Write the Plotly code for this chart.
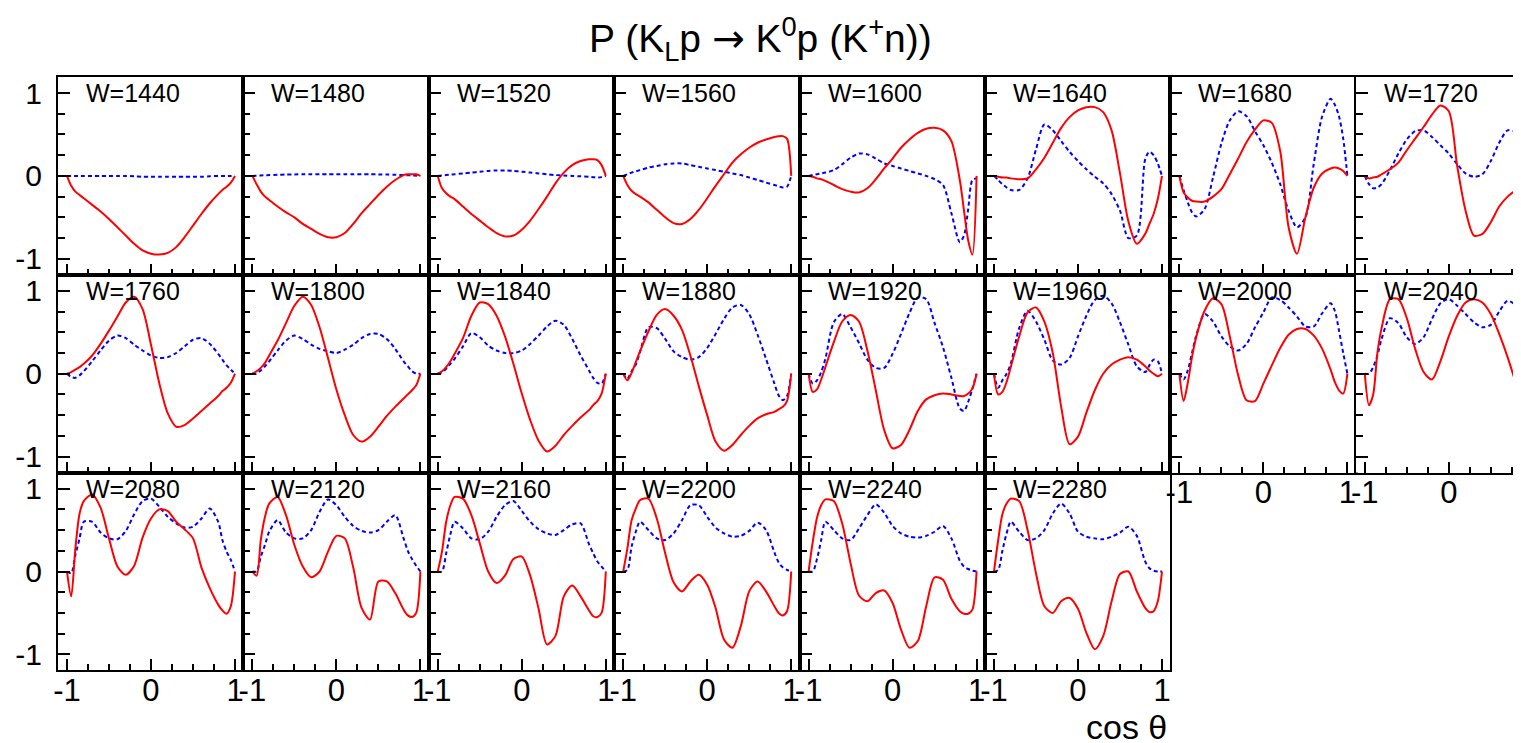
import plotly.graph_objects as go

# ---------------- data ----------------
W_values = [1440, 1480, 1520, 1560, 1600, 1640, 1680, 1720,
            1760, 1800, 1840, 1880, 1920, 1960, 2000, 2040,
            2080, 2120, 2160, 2200, 2240, 2280]

cos_grid = [-1, -0.95, -0.9, -0.85, -0.8, -0.7, -0.6, -0.5, -0.4, -0.3, -0.2, -0.1,
            0, 0.1, 0.2, 0.3, 0.4, 0.5, 0.6, 0.7, 0.8, 0.85, 0.9, 0.95, 1]

tick_vals = [-1, 0, 1]
tick_text = ["-1", "0", "1"]
minor_vals = [-0.75, -0.5, -0.25, 0.25, 0.5, 0.75]

# red solid curves (K0 p)
red_1440 = [0, -0.12, -0.19, -0.23, -0.27, -0.35, -0.43, -0.52, -0.62, -0.72, -0.82, -0.90, -0.94, -0.95, -0.93, -0.86, -0.74, -0.60, -0.46, -0.33, -0.22, -0.17, -0.13, -0.08, 0]
red_1480 = [0, -0.10, -0.19, -0.25, -0.29, -0.37, -0.44, -0.50, -0.58, -0.64, -0.70, -0.74, -0.74, -0.69, -0.58, -0.45, -0.34, -0.23, -0.13, -0.05, 0.01, 0.02, 0.02, 0.02, 0]
red_1520 = [0, -0.15, -0.21, -0.25, -0.28, -0.37, -0.46, -0.54, -0.62, -0.69, -0.73, -0.72, -0.65, -0.54, -0.40, -0.25, -0.09, 0.04, 0.13, 0.18, 0.20, 0.20, 0.19, 0.13, 0]
red_1560 = [0, -0.11, -0.18, -0.22, -0.25, -0.32, -0.41, -0.50, -0.57, -0.58, -0.52, -0.41, -0.27, -0.12, 0.02, 0.16, 0.26, 0.34, 0.40, 0.44, 0.47, 0.48, 0.48, 0.45, 0]
red_1600 = [0, -0.01, -0.03, -0.04, -0.06, -0.11, -0.16, -0.19, -0.20, -0.15, -0.04, 0.09, 0.21, 0.34, 0.44, 0.52, 0.57, 0.58, 0.55, 0.42, -0.05, -0.42, -0.78, -0.95, 0]
red_1640 = [0, -0.01, -0.02, -0.02, -0.03, -0.04, -0.03, 0.08, 0.22, 0.40, 0.58, 0.71, 0.79, 0.83, 0.83, 0.77, 0.55, 0.03, -0.55, -0.82, -0.70, -0.58, -0.46, -0.28, 0]
red_1680 = [0, -0.20, -0.26, -0.30, -0.31, -0.31, -0.25, -0.16, 0.02, 0.21, 0.41, 0.56, 0.67, 0.64, 0.30, -0.62, -0.94, -0.50, -0.14, 0.03, 0.09, 0.10, 0.09, 0.06, 0]
red_1720 = [0, -0.03, -0.02, -0.01, 0.02, 0.08, 0.16, 0.31, 0.45, 0.59, 0.74, 0.85, 0.78, 0.12, -0.42, -0.72, -0.70, -0.56, -0.37, -0.25, -0.17, -0.13, -0.10, -0.06, -0.03]
red_1760 = [0, 0.02, 0.05, 0.08, 0.12, 0.22, 0.36, 0.52, 0.69, 0.86, 0.93, 0.78, 0.35, -0.12, -0.48, -0.64, -0.62, -0.54, -0.45, -0.36, -0.27, -0.21, -0.17, -0.11, 0]
red_1800 = [0, 0.03, 0.07, 0.13, 0.22, 0.40, 0.61, 0.82, 0.93, 0.83, 0.56, 0.19, -0.19, -0.50, -0.74, -0.82, -0.76, -0.64, -0.51, -0.40, -0.30, -0.25, -0.20, -0.14, 0]
red_1840 = [0, 0.03, 0.08, 0.15, 0.24, 0.43, 0.70, 0.86, 0.84, 0.70, 0.45, 0.12, -0.24, -0.56, -0.81, -0.94, -0.87, -0.74, -0.63, -0.53, -0.44, -0.38, -0.33, -0.24, 0]
red_1880 = [0, -0.08, 0.01, 0.14, 0.27, 0.51, 0.71, 0.78, 0.70, 0.53, 0.22, -0.15, -0.50, -0.82, -0.93, -0.86, -0.74, -0.63, -0.54, -0.49, -0.46, -0.43, -0.40, -0.33, 0]
red_1920 = [0, -0.22, -0.19, -0.07, 0.08, 0.38, 0.63, 0.71, 0.63, 0.28, -0.20, -0.68, -0.90, -0.86, -0.68, -0.45, -0.31, -0.26, -0.24, -0.25, -0.27, -0.27, -0.24, -0.18, 0]
red_1960 = [0, -0.25, -0.22, -0.10, 0.08, 0.45, 0.74, 0.80, 0.63, 0.25, -0.40, -0.85, -0.76, -0.47, -0.20, 0.00, 0.11, 0.17, 0.20, 0.17, 0.09, 0.04, 0.0, -0.03, 0]
red_2000 = [0, -0.33, -0.11, 0.20, 0.44, 0.76, 0.91, 0.84, 0.45, -0.02, -0.32, -0.33, -0.12, 0.10, 0.31, 0.47, 0.54, 0.54, 0.46, 0.30, 0.05, -0.10, -0.20, -0.24, 0]
red_2040 = [0, -0.38, -0.25, 0.25, 0.55, 0.90, 0.90, 0.67, 0.30, 0.02, -0.07, 0.15, 0.45, 0.70, 0.86, 0.90, 0.86, 0.72, 0.48, 0.20, -0.12, -0.28, -0.37, -0.38, 0]
red_2080 = [0, -0.30, 0.28, 0.70, 0.85, 0.93, 0.77, 0.40, 0.06, -0.04, 0.07, 0.41, 0.64, 0.75, 0.73, 0.60, 0.51, 0.40, 0.05, -0.20, -0.40, -0.47, -0.51, -0.42, 0]
red_2120 = [0, -0.05, 0.38, 0.66, 0.82, 0.90, 0.68, 0.32, 0.06, -0.07, 0.0, 0.24, 0.43, 0.40, 0.05, -0.44, -0.58, -0.12, -0.12, -0.26, -0.46, -0.53, -0.55, -0.50, 0]
red_2160 = [0, 0.24, 0.60, 0.80, 0.90, 0.88, 0.68, 0.34, 0.0, -0.14, -0.05, 0.15, 0.18, -0.05, -0.45, -0.88, -0.78, -0.30, -0.17, -0.30, -0.47, -0.54, -0.55, -0.50, 0]
red_2200 = [0, 0.28, 0.62, 0.76, 0.86, 0.88, 0.64, 0.22, -0.13, -0.24, -0.12, -0.04, -0.16, -0.44, -0.82, -0.92, -0.66, -0.24, -0.12, -0.24, -0.42, -0.50, -0.53, -0.48, 0]
red_2240 = [0, 0.36, 0.65, 0.80, 0.87, 0.85, 0.58, 0.10, -0.29, -0.36, -0.26, -0.23, -0.38, -0.70, -0.92, -0.84, -0.42, -0.07, -0.10, -0.33, -0.48, -0.51, -0.51, -0.46, 0]
red_2280 = [0, 0.38, 0.69, 0.82, 0.88, 0.85, 0.50, -0.02, -0.42, -0.50, -0.36, -0.32, -0.45, -0.74, -0.94, -0.78, -0.36, -0.03, 0.00, -0.24, -0.44, -0.49, -0.48, -0.36, 0]

# blue dotted curves (K+ n)
blue_1440 = [0, 0, 0, 0, 0, 0, 0, 0, 0, 0, -0.005, -0.01, -0.01, -0.01, -0.01, -0.01, -0.01, -0.01, -0.01, -0.005, 0, 0, 0, 0, 0]
blue_1480 = [0, 0.003, 0.005, 0.008, 0.01, 0.013, 0.016, 0.018, 0.02, 0.02, 0.02, 0.02, 0.02, 0.02, 0.02, 0.02, 0.02, 0.018, 0.016, 0.014, 0.01, 0.008, 0.005, 0.002, 0]
blue_1520 = [0, 0.005, 0.01, 0.015, 0.02, 0.03, 0.04, 0.05, 0.06, 0.065, 0.065, 0.06, 0.05, 0.04, 0.03, 0.02, 0.01, 0.005, 0.0, -0.005, -0.01, -0.015, -0.02, -0.015, 0]
blue_1560 = [0, 0.02, 0.04, 0.055, 0.07, 0.10, 0.12, 0.14, 0.15, 0.15, 0.13, 0.11, 0.09, 0.07, 0.05, 0.03, 0.01, -0.02, -0.05, -0.08, -0.11, -0.125, -0.14, -0.13, 0]
blue_1600 = [0, 0.01, 0.02, 0.03, 0.04, 0.07, 0.14, 0.22, 0.27, 0.26, 0.21, 0.15, 0.12, 0.09, 0.06, 0.03, 0.0, -0.04, -0.11, -0.45, -0.80, -0.72, -0.40, -0.05, -0.03]
blue_1640 = [0, -0.05, -0.10, -0.14, -0.17, -0.17, -0.03, 0.32, 0.62, 0.55, 0.42, 0.29, 0.18, 0.08, -0.01, -0.09, -0.22, -0.42, -0.75, -0.72, 0.20, 0.29, 0.25, 0.15, 0]
blue_1680 = [0, -0.17, -0.32, -0.44, -0.49, -0.40, -0.02, 0.39, 0.67, 0.78, 0.72, 0.54, 0.37, 0.16, -0.10, -0.42, -0.62, -0.50, 0.15, 0.72, 0.93, 0.86, 0.72, 0.45, 0]
blue_1720 = [0, -0.10, -0.15, -0.14, -0.10, 0.07, 0.27, 0.44, 0.54, 0.55, 0.47, 0.37, 0.27, 0.14, 0.03, -0.01, 0.02, 0.18, 0.40, 0.55, 0.53, 0.47, 0.40, 0.29, 0.15]
blue_1760 = [0, -0.04, -0.05, -0.02, 0.03, 0.15, 0.28, 0.40, 0.46, 0.43, 0.35, 0.28, 0.22, 0.19, 0.20, 0.25, 0.33, 0.41, 0.43, 0.36, 0.24, 0.17, 0.10, 0.05, 0]
blue_1800 = [0, 0.0, 0.04, 0.09, 0.15, 0.28, 0.40, 0.46, 0.42, 0.35, 0.30, 0.27, 0.25, 0.29, 0.35, 0.43, 0.48, 0.48, 0.42, 0.30, 0.15, 0.09, 0.03, 0.0, 0]
blue_1840 = [0, 0.02, 0.06, 0.12, 0.18, 0.33, 0.49, 0.44, 0.34, 0.28, 0.25, 0.25, 0.28, 0.36, 0.46, 0.57, 0.64, 0.59, 0.42, 0.22, 0.04, -0.05, -0.11, -0.12, 0]
blue_1880 = [0, -0.06, 0.03, 0.11, 0.26, 0.56, 0.55, 0.42, 0.27, 0.20, 0.17, 0.20, 0.31, 0.48, 0.66, 0.80, 0.83, 0.72, 0.47, 0.18, -0.12, -0.26, -0.32, -0.27, 0]
blue_1920 = [0, -0.12, -0.08, 0.02, 0.18, 0.62, 0.72, 0.56, 0.37, 0.17, 0.07, 0.07, 0.24, 0.48, 0.73, 0.92, 0.90, 0.61, 0.32, -0.05, -0.42, -0.45, -0.34, -0.18, 0]
blue_1960 = [0, -0.17, -0.08, 0.0, 0.12, 0.55, 0.76, 0.63, 0.41, 0.16, 0.11, 0.19, 0.45, 0.70, 0.89, 0.94, 0.85, 0.62, 0.35, 0.09, 0.02, 0.10, 0.17, 0.15, 0]
blue_2000 = [0, -0.07, 0.04, 0.25, 0.46, 0.72, 0.63, 0.45, 0.33, 0.28, 0.36, 0.56, 0.74, 0.92, 0.89, 0.80, 0.69, 0.57, 0.57, 0.73, 0.85, 0.76, 0.52, 0.25, 0]
blue_2040 = [0, 0.0, 0.08, 0.22, 0.42, 0.67, 0.61, 0.44, 0.36, 0.44, 0.66, 0.85, 0.90, 0.82, 0.72, 0.62, 0.56, 0.59, 0.75, 0.88, 0.82, 0.66, 0.48, 0.25, 0]
blue_2080 = [0, -0.02, 0.20, 0.40, 0.60, 0.60, 0.47, 0.40, 0.39, 0.49, 0.69, 0.85, 0.88, 0.78, 0.66, 0.58, 0.53, 0.54, 0.64, 0.76, 0.60, 0.38, 0.24, 0.14, 0]
blue_2120 = [0, 0.0, 0.18, 0.32, 0.48, 0.62, 0.47, 0.40, 0.40, 0.50, 0.72, 0.87, 0.80, 0.66, 0.55, 0.49, 0.47, 0.50, 0.60, 0.68, 0.40, 0.25, 0.15, 0.07, 0]
blue_2160 = [0, 0.0, 0.22, 0.45, 0.60, 0.52, 0.40, 0.39, 0.48, 0.66, 0.80, 0.85, 0.73, 0.60, 0.51, 0.46, 0.44, 0.50, 0.57, 0.58, 0.33, 0.22, 0.12, 0.06, 0]
blue_2200 = [0, 0.02, 0.30, 0.48, 0.60, 0.50, 0.40, 0.38, 0.46, 0.62, 0.80, 0.80, 0.66, 0.53, 0.46, 0.42, 0.43, 0.49, 0.59, 0.50, 0.23, 0.11, 0.05, 0.02, 0]
blue_2240 = [0, 0.0, 0.15, 0.38, 0.60, 0.50, 0.40, 0.38, 0.52, 0.68, 0.81, 0.71, 0.55, 0.46, 0.42, 0.41, 0.43, 0.48, 0.55, 0.40, 0.13, 0.06, 0.03, 0.01, 0]
blue_2280 = [0, 0.02, 0.25, 0.46, 0.60, 0.48, 0.38, 0.40, 0.50, 0.70, 0.82, 0.70, 0.48, 0.42, 0.40, 0.39, 0.42, 0.47, 0.54, 0.43, 0.12, 0.04, 0.01, 0.0, 0]

red_curves = [red_1440, red_1480, red_1520, red_1560, red_1600, red_1640, red_1680, red_1720,
              red_1760, red_1800, red_1840, red_1880, red_1920, red_1960, red_2000, red_2040,
              red_2080, red_2120, red_2160, red_2200, red_2240, red_2280]
blue_curves = [blue_1440, blue_1480, blue_1520, blue_1560, blue_1600, blue_1640, blue_1680, blue_1720,
               blue_1760, blue_1800, blue_1840, blue_1880, blue_1920, blue_1960, blue_2000, blue_2040,
               blue_2080, blue_2120, blue_2160, blue_2200, blue_2240, blue_2280]

# ---------------- layout geometry ----------------
FIG_W, FIG_H = 1521, 743
COL_LEFT0, COL_W = 50.0, 185.4
ROW_TOP0, ROW_H = 69.0, 197.8
NCOLS = 8
X_RANGE = [-1.107, 1.100]
Y_RANGE = [-1.194, 1.194]
FONT = "Liberation Sans, Arial, sans-serif"

fig = go.Figure()
annotations = []
layout_axes = {}

for i, W in enumerate(W_values):
    r, c = divmod(i, NCOLS)
    n = i + 1
    xref = "x" if n == 1 else f"x{n}"
    yref = "y" if n == 1 else f"y{n}"
    left = COL_LEFT0 + COL_W * c
    right = left + COL_W
    xr = list(X_RANGE)
    if right > FIG_W:
        xr[1] = X_RANGE[0] + (X_RANGE[1] - X_RANGE[0]) * (FIG_W - left) / COL_W
        right = FIG_W
    top = ROW_TOP0 + ROW_H * r
    bottom = top + ROW_H

    fig.add_trace(go.Scatter(
        x=cos_grid, y=blue_curves[i], mode="lines",
        line=dict(color="#0000ff", width=2, dash="4px,3px", shape="spline", smoothing=0.8),
        xaxis=xref, yaxis=yref, showlegend=False, hoverinfo="skip"))
    fig.add_trace(go.Scatter(
        x=cos_grid, y=red_curves[i], mode="lines",
        line=dict(color="#ff0000", width=2, shape="spline", smoothing=0.8),
        xaxis=xref, yaxis=yref, showlegend=False, hoverinfo="skip"))

    show_x_labels = (r == 2) or (r == 1 and c >= 6)
    xkey = "xaxis" if n == 1 else f"xaxis{n}"
    ykey = "yaxis" if n == 1 else f"yaxis{n}"
    layout_axes[xkey] = dict(
        domain=[left / FIG_W, right / FIG_W], range=xr, anchor=yref, automargin=False,
        showline=True, mirror=True, linecolor="black", linewidth=2,
        ticks="inside", tickmode="array", tickvals=tick_vals, ticktext=tick_text,
        ticklen=11, tickwidth=2, tickcolor="black",
        minor=dict(tickmode="array", tickvals=minor_vals, ticks="inside",
                   ticklen=6, tickwidth=2, tickcolor="black", showgrid=False),
        showticklabels=show_x_labels, ticklabelstandoff=-9,
        tickfont=dict(family=FONT, size=31, color="black"),
        showgrid=False, zeroline=False, fixedrange=True)
    layout_axes[ykey] = dict(
        domain=[1 - bottom / FIG_H, 1 - top / FIG_H], range=Y_RANGE, anchor=xref, automargin=False,
        showline=True, mirror=True, linecolor="black", linewidth=2,
        ticks="inside", tickmode="array", tickvals=tick_vals, ticktext=tick_text,
        ticklen=12, tickwidth=2, tickcolor="black",
        minor=dict(tickmode="array", tickvals=minor_vals, ticks="inside",
                   ticklen=7, tickwidth=2, tickcolor="black", showgrid=False),
        showticklabels=(c == 0), ticklabelstandoff=8,
        tickfont=dict(family=FONT, size=30, color="black"),
        showgrid=False, zeroline=False, fixedrange=True)

    annotations.append(dict(
        text=f"W={W}", xref="paper", yref="paper",
        x=(left + 26) / FIG_W, y=1 - (top + 16) / FIG_H,
        xanchor="left", yanchor="middle", showarrow=False,
        font=dict(family=FONT, size=25, color="black")))

annotations.append(dict(
    text="P (K<sub>L</sub>p <span style=\"font-family:'DejaVu Sans'\">\u2192</span> "
         "K<sup>0</sup>p (K<sup>+</sup>n))",
    xref="paper", yref="paper", x=752 / FIG_W, y=1 - 31 / FIG_H,
    xanchor="center", yanchor="middle", showarrow=False,
    font=dict(family=FONT, size=39, color="black")))
annotations.append(dict(
    text="cos \u03b8", xref="paper", yref="paper",
    x=1161 / FIG_W, y=1 - 719 / FIG_H,
    xanchor="right", yanchor="middle", showarrow=False,
    font=dict(family=FONT, size=34, color="black")))

fig.update_layout(
    width=FIG_W, height=FIG_H,
    margin=dict(l=0, r=0, t=0, b=0),
    paper_bgcolor="white", plot_bgcolor="white",
    annotations=annotations, hovermode=False,
    **layout_axes)

fig.write_html("out.html")
